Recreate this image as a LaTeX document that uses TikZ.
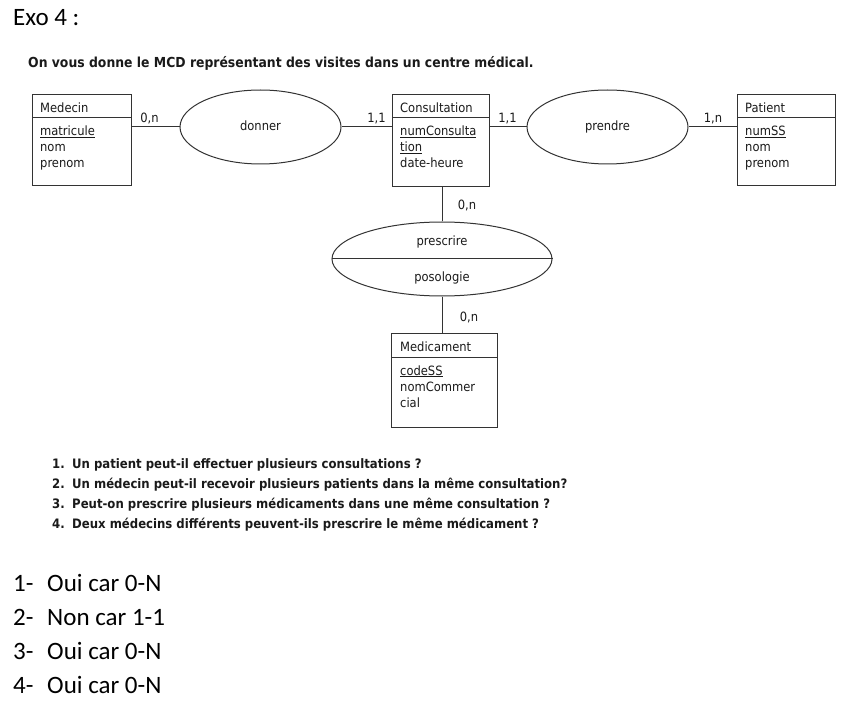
\documentclass[tikz,border=0pt]{standalone}
\usepackage{fontspec}
\setmainfont{Carlito}
\newfontfamily\diagfont{DejaVu Sans Condensed}
\usetikzlibrary{shapes.geometric}

\definecolor{linec}{HTML}{333333}
\definecolor{txtc}{HTML}{1A1A1A}

\newcommand{\dsize}{\diagfont\fontsize{12.8}{15}\selectfont}
\newcommand{\qsize}{\diagfont\bfseries\fontsize{13}{15}\selectfont}
\newcommand{\isize}{\diagfont\bfseries\fontsize{13.8}{16}\selectfont}
\newcommand{\bigsize}{\fontsize{25}{30}\selectfont}

\tikzset{
  ent/.style={draw=linec, line width=1pt, inner sep=0pt, anchor=north west},
  rel/.style={draw=linec, line width=1pt, ellipse, inner sep=0pt,
              minimum width=161pt, minimum height=74pt},
  lbl/.style={font=\dsize, text=txtc, anchor=base west, inner sep=0pt},
  card/.style={font=\dsize, text=txtc, anchor=base, inner sep=0pt},
  link/.style={draw=linec, line width=1pt},
  qline/.style={font=\qsize, text=txtc, anchor=base west, inner sep=0pt},
  big/.style={font=\bigsize, text=black, anchor=base west, inner sep=0pt}
}

\begin{document}
\begin{tikzpicture}[x=1pt, y=-1pt]
\useasboundingbox (0,0) rectangle (848,711);

% title and statement
\node[big] (exo) at (13,26) {Exo 4 :};
\node[qline, font=\isize] (intro) at (28,68) {On vous donne le MCD représentant des visites dans un centre médical.};

% entities
\node[ent, minimum width=99pt, minimum height=91pt] (medecin) at (32,94) {};
\node[ent, minimum width=97pt, minimum height=92pt] (consult) at (392,94) {};
\node[ent, minimum width=98pt, minimum height=91pt] (patient) at (737,94) {};
\node[ent, minimum width=106pt, minimum height=94pt] (medic) at (391,333) {};

% header separators
\foreach \e in {medecin, consult, patient, medic}
  \draw[link] ([yshift=-24pt]\e.north west) -- ([yshift=-24pt]\e.north east);

% entity contents
\node[lbl] (medecin-h) at ([xshift=8pt, yshift=-18.5pt]medecin.north west) {Medecin};
\node[lbl] (medecin-a1) at ([xshift=8pt, yshift=-42pt]medecin.north west) {\underline{matricule}};
\node[lbl] (medecin-a2) at ([xshift=8pt, yshift=-58pt]medecin.north west) {nom};
\node[lbl] (medecin-a3) at ([xshift=8pt, yshift=-74pt]medecin.north west) {prenom};

\node[lbl] (consult-h) at ([xshift=8pt, yshift=-18.5pt]consult.north west) {Consultation};
\node[lbl] (consult-a1) at ([xshift=8pt, yshift=-42pt]consult.north west) {\underline{numConsulta}};
\node[lbl] (consult-a2) at ([xshift=8pt, yshift=-58pt]consult.north west) {\underline{tion}};
\node[lbl] (consult-a3) at ([xshift=8pt, yshift=-74pt]consult.north west) {date-heure};

\node[lbl] (patient-h) at ([xshift=8pt, yshift=-18.5pt]patient.north west) {Patient};
\node[lbl] (patient-a1) at ([xshift=8pt, yshift=-42pt]patient.north west) {\underline{numSS}};
\node[lbl] (patient-a2) at ([xshift=8pt, yshift=-58pt]patient.north west) {nom};
\node[lbl] (patient-a3) at ([xshift=8pt, yshift=-74pt]patient.north west) {prenom};

\node[lbl] (medic-h) at ([xshift=9pt, yshift=-18.5pt]medic.north west) {Medicament};
\node[lbl] (medic-a1) at ([xshift=9pt, yshift=-42pt]medic.north west) {\underline{codeSS}};
\node[lbl] (medic-a2) at ([xshift=9pt, yshift=-58pt]medic.north west) {nomCommer};
\node[lbl] (medic-a3) at ([xshift=9pt, yshift=-74pt]medic.north west) {cial};

% associations
\node[rel] (donner) at (260.5,127) {};
\node[rel] (prendre) at (607.5,127) {};
\node[rel, minimum width=220pt] (prescrire) at (442,259) {};
\draw[link] (prescrire.west) -- (prescrire.east);

\node[card] (donner-t) at ([yshift=-4pt]donner.center) {donner};
\node[card] (prendre-t) at ([yshift=-4pt]prendre.center) {prendre};
\node[card] (prescrire-t) at (442,246) {prescrire};
\node[card] (posologie-t) at (442,281) {posologie};

% links
\draw[link] (medecin.east |- donner.west) -- (donner.west);
\draw[link] (donner.east) -- (donner.east -| consult.west);
\draw[link] (consult.east |- prendre.west) -- (prendre.west);
\draw[link] (prendre.east) -- (prendre.east -| patient.west);
\draw[link] (prescrire.north) -- (prescrire.north |- consult.south);
\draw[link] (prescrire.south) -- (prescrire.south |- medic.north);

% cardinalities
\node[card] (c1) at (149.5,122.5) {0,n};
\node[card] (c2) at (376.5,122.5) {1,1};
\node[card] (c3) at (507.5,122.5) {1,1};
\node[card] (c4) at (713,122.5) {1,n};
\node[card] (c5) at (467,210) {0,n};
\node[card] (c6) at (469,321) {0,n};

% questions
\node[qline] (q1n) at (52,468) {1.};
\node[qline] (q1) at (72,468) {Un patient peut-il effectuer plusieurs consultations ?};
\node[qline] (q2n) at (52,488) {2.};
\node[qline] (q2) at (72,488) {Un médecin peut-il recevoir plusieurs patients dans la même consultation?};
\node[qline] (q3n) at (52,508) {3.};
\node[qline] (q3) at (72,508) {Peut-on prescrire plusieurs médicaments dans une même consultation ?};
\node[qline] (q4n) at (52,528) {4.};
\node[qline] (q4) at (72,528) {Deux médecins différents peuvent-ils prescrire le même médicament ?};

% answers
\node[big] (r1n) at (13,591) {1-};
\node[big] (r1) at (47,591) {Oui car 0-N};
\node[big] (r2n) at (13,625) {2-};
\node[big] (r2) at (47,625) {Non car 1-1};
\node[big] (r3n) at (13,659) {3-};
\node[big] (r3) at (47,659) {Oui car 0-N};
\node[big] (r4n) at (13,693) {4-};
\node[big] (r4) at (47,693) {Oui car 0-N};
\end{tikzpicture}
\end{document}
